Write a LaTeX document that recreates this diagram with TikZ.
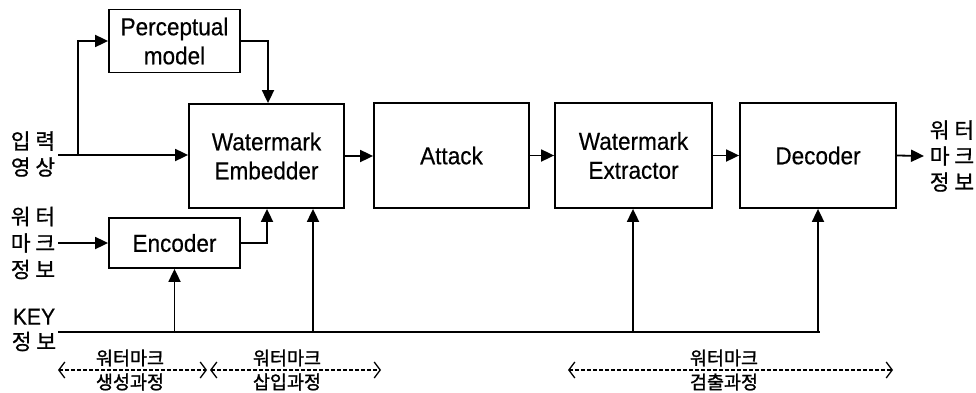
\documentclass[tikz,border=0pt]{standalone}
\usepackage{fontspec}
\setmainfont[FakeStretch=0.92,FakeBold=0.4]{Liberation Sans}
\newfontfamily\kr[FakeBold=0.8]{Noto Sans CJK KR}
\newfontfamily\krb[FakeBold=1.4]{Noto Sans CJK KR}
\usetikzlibrary{arrows.meta}
\begin{document}
\begin{tikzpicture}[x=1pt,y=-1pt,
 box/.style={draw,line width=1.8pt,align=center,inner sep=0pt,
   font=\fontsize{24.5}{29}\selectfont},
 arr/.style={line width=1.8pt,-{Triangle[length=13pt,width=12pt]}},
 ln/.style={line width=1.8pt},
 lab/.style={font=\kr\fontsize{21.5}{26}\selectfont,align=center,inner sep=0pt},
 phase/.style={line width=1.2pt,dash pattern=on 3.5pt off 2.5pt,
   {Straight Barb[length=6pt,width=16pt,line width=1.3pt]}-{Straight Barb[length=6pt,width=16pt,line width=1.3pt]}},
 plab/.style={font=\krb\fontsize{18.5}{18}\selectfont,inner sep=0pt}]
\useasboundingbox[fill=white] (0,0) rectangle (976,393);

% boxes
\node[box,minimum width=131pt,minimum height=63pt] (pm) at (174.5,41) {Perceptual\\model};
\node[box,minimum width=155pt,minimum height=104pt] (emb) at (266.5,156) {Watermark\\Embedder};
\node[box,minimum width=155pt,minimum height=105pt] (att) at (451.5,155.5) {Attack};
\node[box,minimum width=157pt,minimum height=105pt] (ext) at (633.5,155.5) {Watermark\\Extractor};
\node[box,minimum width=156pt,minimum height=105pt] (dec) at (818,155.5) {Decoder};
\node[box,minimum width=131pt,minimum height=50pt] (enc) at (174.5,243) {Encoder};

% side labels
\node[lab] (inlab) at (33,154) {입 력\\영 상};
\node[lab,font=\kr\fontsize{21.5}{26.5}\selectfont] (wmlab) at (33,243) {워 터\\마 크\\정 보};
\node[lab,font=\fontsize{23}{25}\selectfont] (keylab) at (34,330) {KEY\\{\kr\fontsize{21.5}{25}\selectfont 정 보}};
\node[lab] (outlab) at (952,156) {워 터\\마 크\\정 보};

% coordinates
\coordinate (inp) at (58,155);
\coordinate (br) at (78,155);
\coordinate (wmin) at (58,243);
\coordinate (key) at (58,332);
\coordinate (keyend) at (820,332);
\coordinate (k2) at (313,332);
\coordinate (k3) at (633,332);
\coordinate (k4) at (818,332);
\coordinate (out) at (924,156);

% connectors
\draw[arr] (inp) -- (inp -| emb.west);
\draw[arr] (br) |- (pm.west);
\draw[arr] (pm.east) -| ([xshift=1.5pt]emb.north);
\draw[arr] (wmin) -- (enc.west);
\draw[arr] (enc.east) -| ([xshift=0.5pt]emb.south);
\draw[ln] (key) -- (keyend);
\draw[arr] (enc.south |- key) -- (enc.south);
\draw[arr] (k2) -- (k2 |- emb.south);
\draw[arr] (k3) -- (k3 |- ext.south);
\draw[arr] (k4) -- (k4 |- dec.south);
\draw[arr] (emb.east) -- (emb.east -| att.west);
\draw[arr] (att.east) -- (ext.west);
\draw[arr] (ext.east) -- (dec.west);
\draw[arr] (dec.east) -- (out);

% phases
\coordinate (a1) at (58,370); \coordinate (a2) at (207,370);
\coordinate (b1) at (210,370); \coordinate (b2) at (381,370);
\coordinate (c1) at (568,370); \coordinate (c2) at (893,370);
\draw[phase] (a1) -- (a2);
\draw[phase] (b1) -- (b2);
\draw[phase] (c1) -- (c2);
\node[plab] (pa1) at (130,358) {워터마크};
\node[plab] (pa2) at (130,382) {생성과정};
\node[plab] (pb1) at (287,358) {워터마크};
\node[plab] (pb2) at (287,382) {삽입과정};
\node[plab] (pc1) at (724,358) {워터마크};
\node[plab] (pc2) at (724,382) {검출과정};
\end{tikzpicture}
\end{document}
